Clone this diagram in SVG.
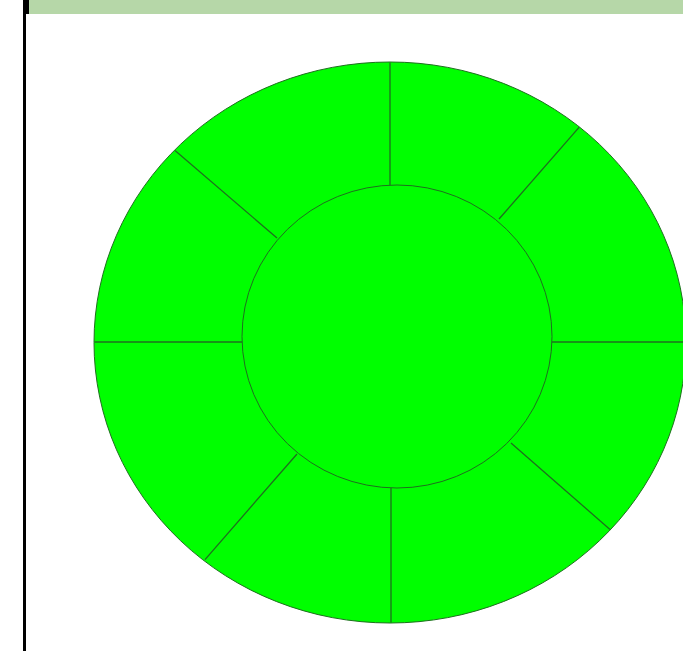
<svg xmlns="http://www.w3.org/2000/svg" width="683" height="651" viewBox="0 0 683 651">
<style>
.seg{fill:#00ff00;stroke:#1f6f1f;stroke-width:1}
.div{stroke:#1f6f1f;stroke-width:1.3;fill:none}
</style>
<defs>
<clipPath id="outerClip"><ellipse cx="390" cy="342.5" rx="295.5" ry="280"/></clipPath>
</defs>
<rect x="0" y="0" width="683" height="651" fill="#ffffff"/>
<g id="header">
<rect x="29" y="0" width="654" height="14" fill="#b6d7a8"/>
<rect x="23" y="0" width="6" height="14" fill="#000000"/>
<rect x="23" y="14" width="3" height="637" fill="#000000"/>
</g>
<g id="outer-ring">
<ellipse class="seg" cx="390" cy="342.5" rx="296" ry="280.5"/>
</g>
<g id="connectors" clip-path="url(#outerClip)">
<line class="div" x1="390" y1="55" x2="390" y2="185"/>
<line class="div" x1="391" y1="488" x2="391" y2="630"/>
<line class="div" x1="85" y1="342" x2="242" y2="342"/>
<line class="div" x1="552" y1="342" x2="690" y2="342"/>
<line class="div" x1="175" y1="150.6" x2="277" y2="238"/>
<line class="div" x1="586" y1="119.4" x2="499" y2="219"/>
<line class="div" x1="297" y1="454" x2="205" y2="559.6"/>
<line class="div" x1="511" y1="443" x2="620" y2="538.2"/>
</g>
<g id="inner-circle">
<ellipse class="seg" cx="397" cy="336.5" rx="155" ry="151.5"/>
</g>
</svg>
